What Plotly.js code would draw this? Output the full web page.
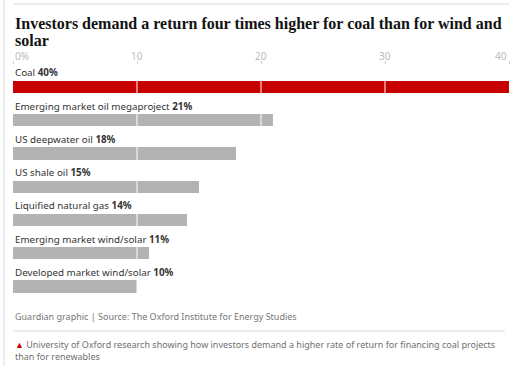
<!DOCTYPE html>
<html><head><meta charset="utf-8">
<script src="https://cdn.plot.ly/plotly-3.0.1.min.js"></script>
<style>html,body{margin:0;padding:0;background:#fff}#chart{width:532px;height:366px}</style>
</head><body><div id="chart"></div>
<script>
const categories = ["Coal","Emerging market oil megaproject","US deepwater oil","US shale oil","Liquified natural gas","Emerging market wind/solar","Developed market wind/solar"];
const values = [40,21,18,15,14,11,10];
const tickValues = [0,10,20,30,40];
const tickLabels = ["0%","10","20","30","40"];
const titleLines = ["Investors demand a return four times higher for coal than for wind and", "solar"];
const sourceText = "Guardian graphic | Source: The Oxford Institute for Energy Studies";
const captionText = "University of Oxford research showing how investors demand a higher rate of return for financing coal projects<br>than for renewables";

const RED = "#c70000", GREY = "#b3b3b3";
const sans = "Noto Sans, sans-serif";
const P = {l:13, r:23, t:65, b:63, W:532, H:366};
const ph = P.H - P.t - P.b, pw = P.W - P.l - P.r;
const py = v => (P.H - P.b - v) / ph;   // pixel y -> paper y
const px = v => (v - P.l) / pw;         // pixel x -> paper x

const trace = {
  type: "bar", orientation: "h",
  y: categories, x: values,
  marker: {color: categories.map((c,i)=> i===0 ? RED : GREY)},
  width: 0.37, hoverinfo: "skip"
};

const annotations = [];
titleLines.forEach((t,i)=>{
  annotations.push({x:0, y:py(24 + 17*i), xref:"paper", yref:"paper", xanchor:"left", yanchor:"middle",
    text:"<b>"+t+"</b>", showarrow:false, font:{family:"Liberation Serif, serif", size:16, color:"#121212"}});
});
categories.forEach((c,i)=>{
  annotations.push({x:0, y:c, xref:"x", yref:"y", xanchor:"left", yanchor:"middle", yshift:14,
    text: c + " <b>" + values[i] + "%</b>", showarrow:false, font:{family:sans, size:9.8, color:"#333"}});
});
tickValues.forEach((t,i)=>{
  annotations.push({x:t, y:1, xref:"x", yref:"paper", yanchor:"bottom", yshift:0,
    xanchor: i===0 ? "left" : (i===tickValues.length-1 ? "right" : "center"),
    text: tickLabels[i], showarrow:false, font:{family:sans, size:10, color:"#bbb"}});
});
annotations.push({x:0, y:py(316), xref:"paper", yref:"paper", xanchor:"left", yanchor:"middle",
  text: sourceText, showarrow:false, font:{family:sans, size:9, color:"#767676"}});
annotations.push({x:0, y:py(336), xref:"paper", yref:"paper", xanchor:"left", yanchor:"top", align:"left",
  text: '<span style="color:'+RED+'">▲</span> ' + captionText, showarrow:false,
  font:{family:sans, size:9, color:"#707070"}});

const shapes = [
  {type:"line", xref:"paper", yref:"paper", x0:0, x1:1, y0:py(4), y1:py(4), line:{color:"#dcdcdc", width:1}},
  {type:"line", xref:"paper", yref:"paper", x0:px(4), x1:px(4), y0:py(0), y1:py(366), line:{color:"#dcdcdc", width:1}},
  {type:"line", xref:"paper", yref:"paper", x0:0, x1:px(505), y0:py(331), y1:py(331), line:{color:"#dcdcdc", width:1}}
];
tickValues.slice(1, -1).forEach(t=>{
  shapes.push({type:"line", xref:"x", yref:"paper", x0:t, x1:t, y0:0, y1:1, layer:"above", line:{color:"#fff", width:1}});
});

const layout = {
  width:P.W, height:P.H, margin:{l:P.l, r:P.r, t:P.t, b:P.b},
  paper_bgcolor:"#fff", plot_bgcolor:"#fff", showlegend:false,
  xaxis:{range:[0,40], side:"top", tickvals:tickValues, ticktext:tickValues.map(()=>""), ticks:"outside", ticklen:3,
    tickcolor:"#ccc", showgrid:false, zeroline:false, showline:false, fixedrange:true},
  yaxis:{type:"category", range:[6.5,-0.66], showticklabels:false, ticks:"", showgrid:false, zeroline:false, showline:false},
  annotations, shapes, bargap:0
};
Plotly.newPlot("chart", [trace], layout, {displayModeBar:false, staticPlot:true});
</script></body></html>
